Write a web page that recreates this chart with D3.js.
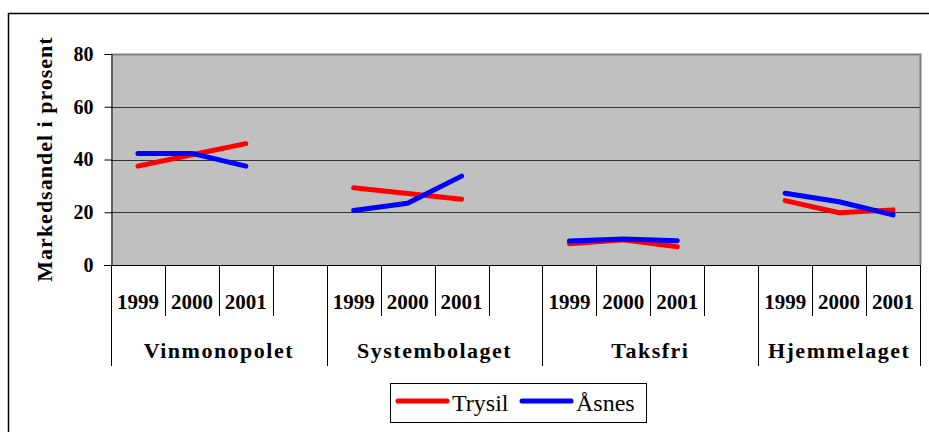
<!DOCTYPE html>
<html>
<head>
<meta charset="utf-8">
<script src="https://cdn.jsdelivr.net/npm/d3@7"></script>
<style>
  body { margin: 0; background: #fff; }
  svg text { font-family: "Liberation Serif", "Times New Roman", serif; }
</style>
</head>
<body>
<script>
//chart data
var groups = ["Vinmonopolet", "Systembolaget", "Taksfri", "Hjemmelaget"];
var years = ["1999", "2000", "2001"];
var trysil = [[37.5, 41.8, 46], [29.3, 27.1, 24.9], [8.1, 9.6, 6.9], [24.4, 19.8, 20.9]];
var asnes = [[42.3, 42.3, 37.5], [20.7, 23.4, 33.7], [9.1, 9.9, 9.2], [27.2, 24, 19]];
var yTicks = [0, 20, 40, 60, 80];

window.onload = drawChart();

function drawChart() {

    var width = 929,
        height = 432;

    var left = 111, right = 920, top = 54, bottom = 265;

    var svg = d3.select("body")
        .append("svg")
        .attr("width", width)
        .attr("height", height);

    //outer frame (runs off right and bottom edge)
    svg.append("path")
        .attr("d", "M8.5," + height + "V13.5H" + width)
        .attr("fill", "none")
        .attr("stroke", "#000")
        .attr("stroke-width", 1.5);

    //flat category list: each group gets its years, then a blank slot (not after the last)
    var slots = [];
    groups.forEach(function (g, gi) {
        years.forEach(function (yr) {
            slots.push({ key: g + "|" + yr, group: gi, year: yr });
        });
        if (gi < groups.length - 1) slots.push({ key: g + "|blank", group: gi, year: "" });
    });

    var x = d3.scaleBand()
        .domain(slots.map(function (d) { return d.key; }))
        .range([left, right])
        .padding(0);

    var y = d3.scaleLinear()
        .domain([0, 80])
        .range([bottom, top]);

    //plot background
    svg.append("rect")
        .attr("x", left)
        .attr("y", top)
        .attr("width", right - left)
        .attr("height", bottom - top)
        .attr("fill", "#c0c0c0");

    //gridlines
    svg.selectAll(".grid")
        .data(yTicks.slice(1, -1))
        .enter()
        .append("line")
        .attr("x1", left)
        .attr("x2", right)
        .attr("y1", function (d) { return Math.round(y(d)) + 0.5; })
        .attr("y2", function (d) { return Math.round(y(d)) + 0.5; })
        .attr("stroke", "#333")
        .attr("stroke-width", 1);

    //plot border top/right
    svg.append("path")
        .attr("d", "M" + left + "," + (top + 0.5) + "H" + (right + 0.5) + "V" + bottom)
        .attr("fill", "none")
        .attr("stroke", "#808080")
        .attr("stroke-width", 2);

    //y axis
    var yAxis = svg.append("g")
        .attr("transform", "translate(" + (left + 0.5) + ",0)")
        .call(d3.axisLeft(y).tickValues(yTicks).tickSize(7).tickPadding(11));
    yAxis.select(".domain").attr("stroke", "#000").attr("stroke-width", 1);
    yAxis.selectAll(".tick line").attr("stroke", "#000");
    yAxis.selectAll("text")
        .attr("fill", "#000")
        .attr("font-weight", "bold")
        .attr("font-size", 20);

    //y axis title
    svg.append("text")
        .attr("transform", "translate(52,159) rotate(-90)")
        .attr("text-anchor", "middle")
        .attr("font-weight", "bold")
        .attr("font-size", 22)
        .attr("letter-spacing", 1)
        .text("Markedsandel i prosent");

    //category axis line
    svg.append("line")
        .attr("x1", left - 7)
        .attr("x2", right)
        .attr("y1", bottom + 0.5)
        .attr("y2", bottom + 0.5)
        .attr("stroke", "#000");

    //slot dividers: short for years, long at group edges
    var edges = slots.map(function (d, i) {
        return { x: x(d.key), long: i === 0 || (slots[i - 1].year === "") };
    });
    edges.push({ x: right, long: true });

    svg.selectAll(".divider")
        .data(edges)
        .enter()
        .append("line")
        .attr("x1", function (d) { return Math.round(d.x) + 0.5; })
        .attr("x2", function (d) { return Math.round(d.x) + 0.5; })
        .attr("y1", bottom)
        .attr("y2", function (d) { return d.long ? 366 : 316; })
        .attr("stroke", "#000");

    //year labels
    svg.selectAll(".year")
        .data(slots.filter(function (d) { return d.year !== ""; }))
        .enter()
        .append("text")
        .attr("x", function (d) { return x(d.key) + x.bandwidth() / 2; })
        .attr("y", 309)
        .attr("text-anchor", "middle")
        .attr("font-weight", "bold")
        .attr("font-size", 21)
        .text(function (d) { return d.year; });

    //group labels centred on each group's span
    svg.selectAll(".group")
        .data(groups)
        .enter()
        .append("text")
        .attr("x", function (g, gi) {
            var s = slots.filter(function (d) { return d.group === gi; });
            var x0 = x(s[0].key), x1 = x(s[s.length - 1].key) + x.bandwidth();
            return (x0 + x1) / 2;
        })
        .attr("y", 358)
        .attr("text-anchor", "middle")
        .attr("font-weight", "bold")
        .attr("font-size", 22)
        .attr("letter-spacing", 1.5)
        .text(function (d) { return d; });

    //lines, one segment per group
    var line = d3.line()
        .x(function (d) { return x(d.key) + x.bandwidth() / 2; })
        .y(function (d) { return y(d.v); });

    function drawSeries(values, color) {
        values.forEach(function (vals, gi) {
            var pts = vals.map(function (v, yi) {
                return { key: groups[gi] + "|" + years[yi], v: v };
            });
            svg.append("path")
                .datum(pts)
                .attr("d", line)
                .attr("fill", "none")
                .attr("stroke", color)
                .attr("stroke-width", 5)
                .attr("stroke-linecap", "round")
                .attr("stroke-linejoin", "round");
        });
    }
    drawSeries(trysil, "#ff0000");
    drawSeries(asnes, "#0000ff");

    //legend
    var legend = svg.append("g");
    legend.append("rect")
        .attr("x", 390.5)
        .attr("y", 383.5)
        .attr("width", 256)
        .attr("height", 39)
        .attr("fill", "#fff")
        .attr("stroke", "#000")
        .attr("stroke-width", 1);

    var items = [{ name: "Trysil", color: "#ff0000", x: 397 }, { name: "Åsnes", color: "#0000ff", x: 521 }];
    items.forEach(function (it) {
        legend.append("line")
            .attr("x1", it.x + 1)
            .attr("x2", it.x + 50)
            .attr("y1", 401)
            .attr("y2", 401)
            .attr("stroke", it.color)
            .attr("stroke-width", 5)
            .attr("stroke-linecap", "round");
        legend.append("text")
            .attr("x", it.x + 55)
            .attr("y", 411)
            .attr("font-size", 24)
            .text(it.name);
    });
}
</script>
</body>
</html>
